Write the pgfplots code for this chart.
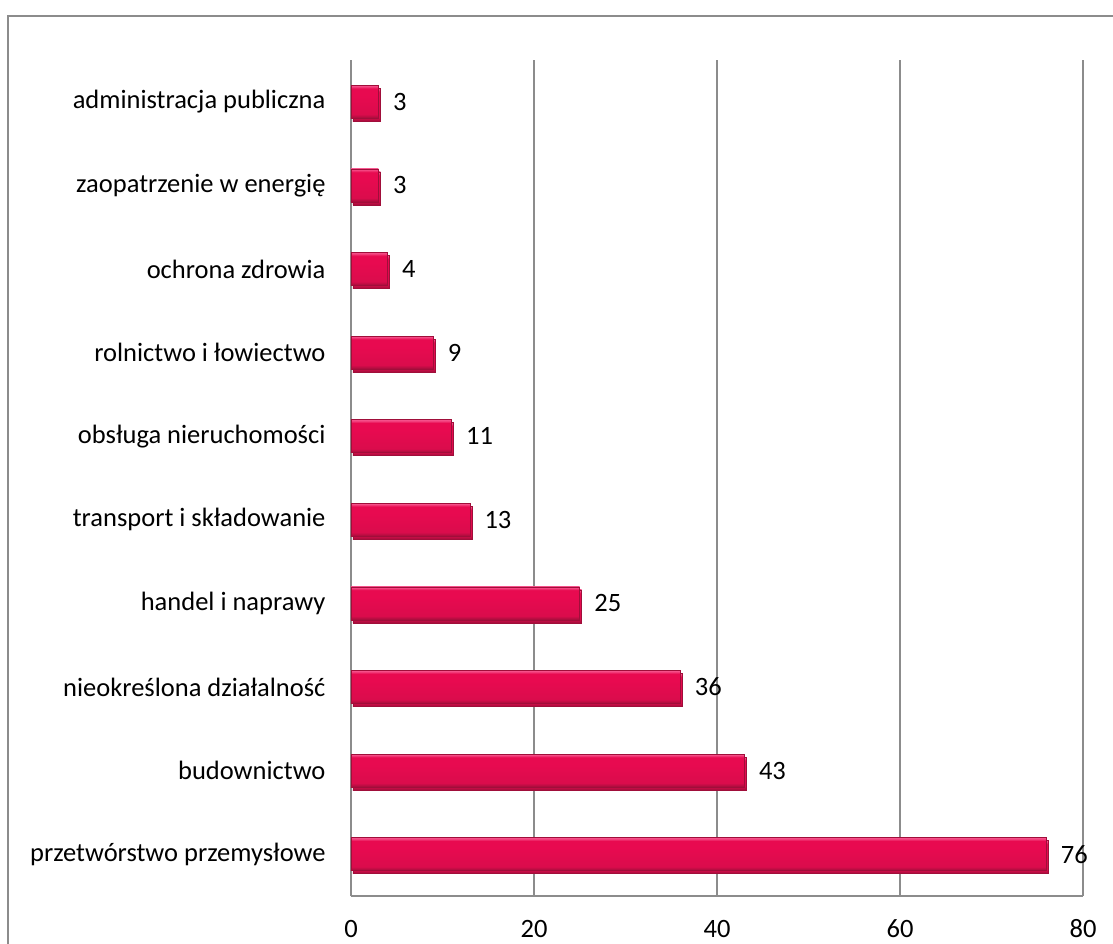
\documentclass[border=0pt]{standalone}
\usepackage{fontspec}
\setmainfont{Carlito}
\usepackage{pgfplots}
\pgfplotsset{compat=1.18}
\definecolor{barmid}{HTML}{E80A50}
\definecolor{barmidb}{HTML}{DA0C4C}
\definecolor{barlight}{HTML}{F5508A}
\definecolor{bardark}{HTML}{A00E3A}
\definecolor{linegray}{HTML}{8C8C8C}
\pgfdeclareverticalshading{barshade}{100bp}{color(0bp)=(bardark); color(25bp)=(bardark); color(31bp)=(barmidb); color(60bp)=(barmid); color(70bp)=(barmid); color(74bp)=(barlight); color(100bp)=(barlight)}
\pgfplotsset{mybar/.style={bar shift=0pt, draw=bardark, line width=0.5pt,
  shading=barshade,
  preaction={fill=black!10, transform canvas={xshift=2pt, yshift=-3pt}}}}
\begin{document}
\begin{tikzpicture}
\useasboundingbox (-351pt,-47pt) rectangle (762pt,896pt);
\clip (-351pt,-47pt) rectangle (762pt,896pt);
\draw[color=linegray, line width=1.5pt] (-343pt,-100pt) rectangle (800pt,880pt);
\begin{axis}[
  at={(0pt,0pt)}, anchor=south west,
  scale only axis, width=732pt, height=836pt,
  xmin=0, xmax=80, ymin=-0.5, ymax=9.5,
  enlargelimits=false,
  xtick={0,20,40,60,80},
  ytick={0,...,9},
  yticklabels={przetwórstwo przemysłowe, budownictwo, nieokreślona działalność, handel i naprawy, transport i składowanie, obsługa nieruchomości, rolnictwo i łowiectwo, ochrona zdrowia, zaopatrzenie w energię, administracja publiczna},
  xmajorgrids,
  grid style={draw=linegray, line width=1.5pt},
  axis x line*=bottom, axis y line*=left,
  axis line style={draw=linegray, line width=1.5pt, -},
  major tick length=0pt,
  /pgf/number format/assume math mode=true,
  tick label style={font=\fontsize{26.5}{30}\selectfont, black},
  xticklabel style={anchor=base, inner sep=0pt, yshift=-41pt},
  yticklabel style={xshift=-22pt},
  xbar, bar width=33pt,
  nodes near coords,
  every node near coord/.append style={font=\fontsize{26.5}{30}\selectfont, black, anchor=west, xshift=11pt},
]
\addplot[mybar] coordinates {(76,0)};
\addplot[mybar] coordinates {(43,1)};
\addplot[mybar] coordinates {(36,2)};
\addplot[mybar] coordinates {(25,3)};
\addplot[mybar] coordinates {(13,4)};
\addplot[mybar] coordinates {(11,5)};
\addplot[mybar] coordinates {(9,6)};
\addplot[mybar] coordinates {(4,7)};
\addplot[mybar] coordinates {(3,8)};
\addplot[mybar] coordinates {(3,9)};
\end{axis}
\end{tikzpicture}
\end{document}
